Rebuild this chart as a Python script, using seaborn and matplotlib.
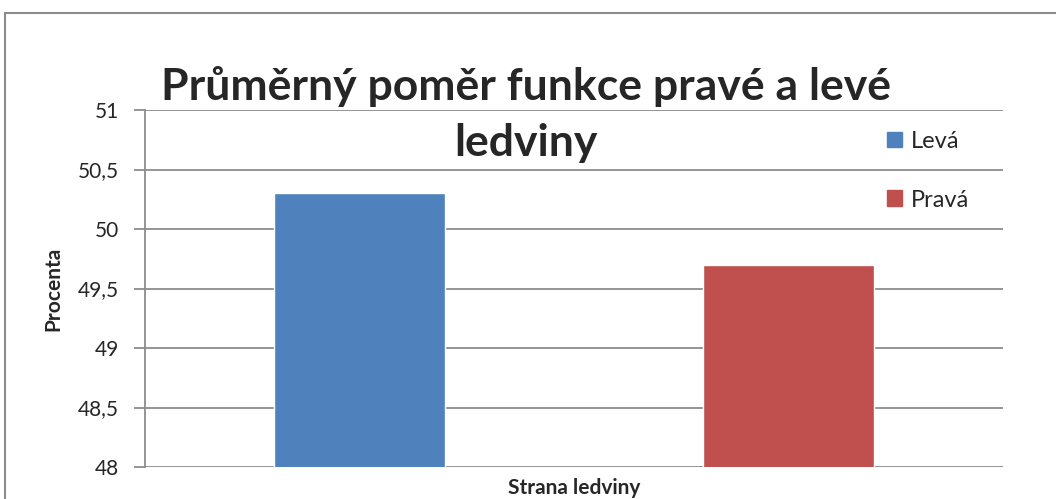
import matplotlib
matplotlib.use("Agg")
import matplotlib.pyplot as plt
from matplotlib.patches import Rectangle
from matplotlib.ticker import FuncFormatter
import seaborn as sns
import pandas as pd

# data
strany = ["Levá", "Pravá"]
procenta = [50.3, 49.7]
barvy = ["#4F81BD", "#C0504D"]
y_ticks = [48, 48.5, 49, 49.5, 50, 50.5, 51]

df = pd.DataFrame({"Strana": strany, "Procenta": procenta})

sns.set_theme(style="white")
plt.rcParams["font.family"] = ["Lato", "DejaVu Sans"]

fig = plt.figure(figsize=(10.56, 4.99), dpi=100)
ax = fig.add_axes([145 / 1056, 1 - 467 / 499, (1003 - 145) / 1056, (467 - 110) / 499])

sns.barplot(data=df, x="Strana", y="Procenta", hue="Strana", palette=barvy,
            width=0.4, dodge=False, legend=False, ax=ax, saturation=1)

ax.set_ylim(48, 51)
ax.set_yticks(y_ticks)
ax.yaxis.set_major_formatter(FuncFormatter(lambda v, p: f"{v:g}".replace(".", ",")))
ax.set_xticks([])
ax.set_xlim(-0.5, 1.5)
ax.grid(axis="y", color="#8c8c8c", lw=1.3, zorder=0)
ax.set_axisbelow(True)
for s in ["top", "right", "bottom"]:
    ax.spines[s].set_visible(False)
ax.spines["left"].set_color("#8c8c8c")
ax.spines["left"].set_linewidth(1.3)
ax.tick_params(axis="y", direction="out", length=8, width=1.3, color="#8c8c8c",
               labelsize=15, pad=11, left=True)

ax.set_ylabel("Procenta", fontsize=15, fontweight="bold", labelpad=10)
ax.set_xlabel("Strana ledviny", fontsize=15, fontweight="bold", labelpad=8)

fig.text(0.498, 1 - 100 / 499, "Průměrný poměr funkce pravé a levé", ha="center",
         va="baseline", fontsize=32, fontweight="bold")
fig.text(0.498, 1 - 156 / 499, "ledviny", ha="center", va="baseline",
         fontsize=32, fontweight="bold")

handles = [Rectangle((0, 0), 1, 1, color=c) for c in barvy]
fig.legend(handles, strany, loc="upper left", bbox_to_anchor=(868 / 1056, 1 - 112 / 499),
           frameon=False, fontsize=17, handlelength=0.65, handleheight=0.65,
           handletextpad=0.35, labelspacing=1.6, borderpad=0.3)

fig.add_artist(Rectangle((5 / 1056, -0.1), 1.2, 1 - 13 / 499 + 0.1, transform=fig.transFigure,
                         fill=False, edgecolor="#8c8c8c", lw=1.5))

fig.savefig("out.png", dpi=100)
